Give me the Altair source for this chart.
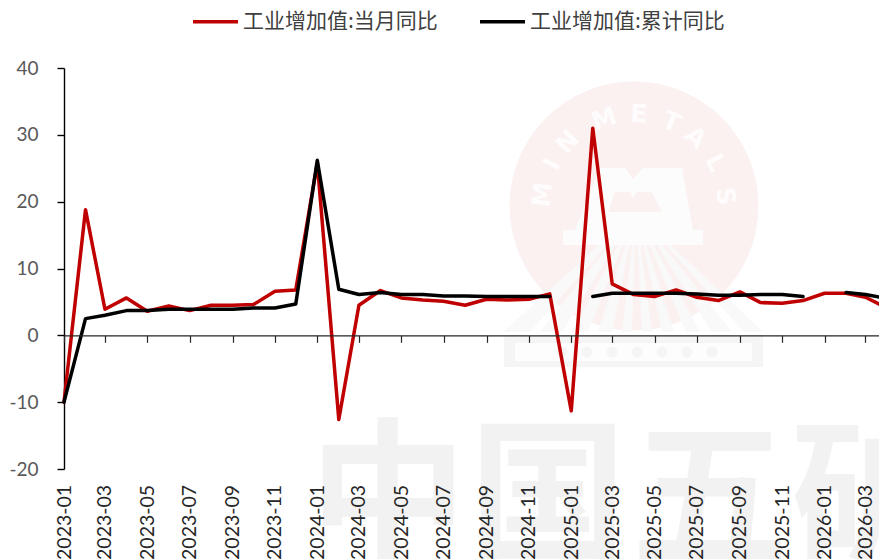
import math
import altair as alt
import pandas as pd

months = [f"{y}-{m:02d}-01" for y in (2023, 2024, 2025) for m in range(1, 13)] + [f"2026-{m:02d}-01" for m in range(1, 5)]
monthly = [-10, 18.8, 3.9, 5.6, 3.6, 4.4, 3.7, 4.5, 4.5, 4.6, 6.6, 6.8,
           25.8, -12.6, 4.5, 6.7, 5.6, 5.3, 5.1, 4.5, 5.4, 5.3, 5.4, 6.2,
           -11.3, 31.0, 7.7, 6.1, 5.8, 6.8, 5.7, 5.2, 6.5, 4.9, 4.8, 5.2,
           6.3, 6.3, 5.7, 4.1]
cumul = [-10, 2.5, 3.0, 3.7, 3.7, 3.9, 3.9, 3.9, 3.9, 4.1, 4.1, 4.7,
         26.2, 6.9, 6.1, 6.4, 6.1, 6.1, 5.9, 5.9, 5.8, 5.8, 5.8, 5.8,
         None, 5.8, 6.3, 6.3, 6.3, 6.3, 6.2, 6.0, 6.0, 6.1, 6.1, 5.8,
         None, 6.4, 6.1, 5.5]
name_m = "工业增加值:当月同比"
name_c = "工业增加值:累计同比"
tick_years_months = [(y, m) for y in (2023, 2024, 2025) for m in (1, 3, 5, 7, 9, 11)] + [(2026, 1), (2026, 3)]

df = pd.DataFrame({
    "date": months * 2,
    "value": monthly + cumul,
    "series": [name_m] * len(months) + [name_c] * len(months),
})

PX, PY = 64, 68
W, H = 823, 401
one = pd.DataFrame({"a": [0]})


def dt(y, m):
    return alt.DateTime(year=y, month=m, date=1, utc=True)


def shape(points, ax, ay):
    return "M" + " L".join(f"{x-ax} {y-ay}" for x, y in points) + " Z"


def glyph(path, color, ax, ay):
    return alt.Chart(one).mark_point(shape=path, size=4, filled=True, opacity=1, color=color, strokeWidth=0).encode(
        x=alt.value(ax - PX), y=alt.value(ay - PY))


def label(text, x, y, size, color, angle=0, font="Noto Sans CJK SC", weight="bold"):
    return alt.Chart(one).mark_text(text=text, font=font, fontSize=size, fontWeight=weight, color=color,
                                    angle=angle % 360, align="center", baseline="middle").encode(
        x=alt.value(x - PX), y=alt.value(y - PY))


def dot(x, y, d, color):
    return alt.Chart(one).mark_point(filled=True, opacity=1, color=color, size=d ** 2, strokeWidth=0).encode(
        x=alt.value(x - PX), y=alt.value(y - PY))


CX, CY = 634, 206
layers = []
for ch, x in zip("中国五矿", [388, 548, 710, 870]):
    layers.append(label(ch, x, 505, 158, "#f2f2f2"))
layers.append(dot(CX, CY, 249, "#fbf1f1"))
for a, b in [(503, 530), (540, 562), (572, 588), (598, 612), (622, 632), (642, 652), (662, 674), (686, 700), (712, 732), (744, 763)]:
    layers.append(glyph(shape([(636, 212), (b, 332), (a, 332)], CX, CY), "#f9f9f9", CX, CY))
layers.append(glyph(shape([(504, 335), (763, 335), (763, 367), (504, 367)], CX, CY), "#f5f5f5", CX, CY))
layers.append(glyph(shape([(515, 343), (752, 343), (752, 361), (515, 361)], CX, CY), "#fdfdfd", CX, CY))
for x in [562, 587, 612, 637, 662, 687, 712]:
    layers.append(dot(x, 352, 11, "#f5f5f5"))
layers.append(glyph(shape([(600, 168), (625, 168), (633, 179), (643, 168), (682, 168), (693, 230), (703, 230), (703, 245), (563, 245), (563, 230), (575, 230)], CX, CY), "#fdfcfc", CX, CY))
layers.append(glyph(shape([(615, 192), (630, 192), (633, 198), (637, 192), (652, 192), (662, 212), (608, 212)], CX, CY), "#fbf1f1", CX, CY))
for ch, ang in zip("MINMETALS", [-83, -63, -46, -19, 3, 24, 42, 62, 84]):
    r = math.radians(ang)
    layers.append(label(ch, CX + 92 * math.sin(r), CY - 92 * math.cos(r), 25, "#fefcfc", ang, "DejaVu Sans"))

lines = alt.Chart(df).mark_line(strokeWidth=3.5, strokeCap="round", strokeJoin="round").encode(
    x=alt.X("date:T", title=None,
            scale=alt.Scale(type="utc", domain=[dt(2023, 1), dt(2026, 4)], range=[0, W]),
            axis=alt.Axis(values=[dt(y, m) for y, m in tick_years_months], format="%Y-%m", offset=-133.66,
                          labelAngle=270, labelAlign="right", labelBaseline="middle", labelPadding=142,
                          labelFont="Lato", labelFontSize=19.5, labelColor="#262626", labelOverlap=False, labelFlush=False,
                          domainColor="#262626", domainWidth=1.2, tickColor="#262626", tickWidth=1.2, tickSize=7,
                          grid=False, zindex=1)),
    y=alt.Y("value:Q", title=None,
            scale=alt.Scale(domain=[-20, 40], nice=False),
            axis=alt.Axis(values=[-20, -10, 0, 10, 20, 30, 40], labelFont="Lato", labelFontSize=19, labelColor="#595959",
                          labelExpr="'' + datum.value",
                          labelPadding=19, domainColor="#000000", domainWidth=1.4, tickColor="#000000", tickWidth=1.4,
                          tickSize=7, grid=False)),
    color=alt.Color("series:N", sort=[name_m, name_c],
                    scale=alt.Scale(domain=[name_m, name_c], range=["#c00000", "#000000"]),
                    legend=alt.Legend(title=None, orient="none", legendX=127, legendY=-71, direction="horizontal",
                                      symbolType="stroke", symbolSize=2025, symbolStrokeWidth=3.5,
                                      labelFont="Noto Sans CJK SC", labelFontSize=21, labelColor="#404040",
                                      labelOffset=3, columnPadding=35, labelLimit=300, rowPadding=0)),
    order=alt.Order("series:N", sort="descending"),
)

chart = alt.layer(*layers, lines).properties(
    width=W - 8, height=H, autosize=alt.AutoSizeParams(type="none"),
    padding={"left": PX - 8, "top": PY - 8, "right": 0, "bottom": 90},
    background="#ffffff",
).configure_view(stroke=None)

chart.save("out.html", embed_options={"renderer": "svg", "actions": False})
